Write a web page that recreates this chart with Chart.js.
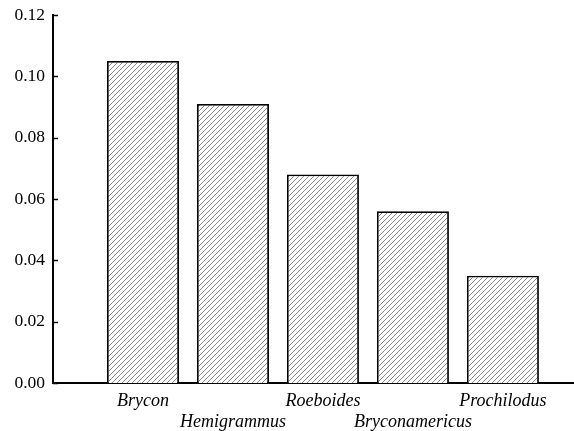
<!DOCTYPE html>
<html>
<head>
<meta charset="UTF-8">
<title>Genera</title>
<style>
  html, body { margin: 0; padding: 0; background: #fff; }
</style>
</head>
<body>
<canvas id="chart" width="574" height="431"></canvas>
<script src="https://cdn.jsdelivr.net/npm/chart.js"></script>
<script>
const genera = ['Brycon', 'Hemigrammus', 'Roeboides', 'Bryconamericus', 'Prochilodus'];
const values = [0.105, 0.091, 0.068, 0.056, 0.035];
const yTicks = [0, 0.02, 0.04, 0.06, 0.08, 0.10, 0.12];

// diagonal hatch fill
function hatch() {
  const c = document.createElement('canvas');
  c.width = 5; c.height = 5;
  const g = c.getContext('2d');
  g.fillStyle = '#fff';
  g.fillRect(0, 0, 5, 5);
  g.strokeStyle = '#7a7a7a';
  g.lineWidth = 0.9;
  g.beginPath();
  g.moveTo(-1, 6); g.lineTo(6, -1);
  g.moveTo(-1, 1); g.lineTo(1, -1);
  g.moveTo(4, 6); g.lineTo(6, 4);
  g.stroke();
  return g.createPattern(c, 'repeat');
}

// short tick marks pointing into the plot
const innerTicks = {
  id: 'innerTicks',
  afterDraw(chart) {
    const y = chart.scales.y, ctx = chart.ctx;
    ctx.save();
    ctx.strokeStyle = '#000';
    ctx.lineWidth = 1.5;
    y.ticks.forEach(t => {
      const py = Math.round(y.getPixelForValue(t.value)) + 0.5;
      ctx.beginPath();
      ctx.moveTo(chart.chartArea.left, py);
      ctx.lineTo(chart.chartArea.left + 5, py);
      ctx.stroke();
    });
    ctx.restore();
  }
};

new Chart(document.getElementById('chart'), {
  type: 'bar',
  data: {
    datasets: [{
      data: genera.map((g, i) => ({ x: i + 1, y: values[i] })),
      backgroundColor: hatch(),
      borderColor: '#000',
      borderWidth: 1.8,
      borderSkipped: 'bottom',
      barPercentage: 0.8,
      categoryPercentage: 1
    }]
  },
  options: {
    responsive: false,
    animation: false,
    layout: { padding: { top: 15, right: 0, left: 0, bottom: 0 } },
    plugins: { legend: { display: false }, tooltip: { enabled: false } },
    scales: {
      x: {
        type: 'linear',
        offset: false,
        min: 0,
        max: 5.79,
        grid: { display: false, drawTicks: false },
        border: { display: true, color: '#000', width: 2 },
        afterBuildTicks: s => { s.ticks = genera.map((g, i) => ({ value: i + 1 })); },
        afterFit: s => { s.height = 48; },
        ticks: {
          autoSkip: false,
          maxRotation: 0,
          padding: 8,
          color: '#000',
          font: { family: 'Liberation Serif', size: 18, style: 'italic', lineHeight: 1.17 },
          callback: v => {
            const i = Math.round(v) - 1;
            return i % 2 ? ['', genera[i]] : genera[i];
          }
        }
      },
      y: {
        min: 0,
        max: 0.12,
        grid: { display: false, drawTicks: false },
        border: { display: true, color: '#000', width: 2 },
        afterBuildTicks: s => { s.ticks = yTicks.map(v => ({ value: v })); },
        afterFit: s => { s.width = 53; s.paddingTop = 0; s.paddingBottom = 0; },
        ticks: {
          autoSkip: false,
          padding: 8,
          color: '#000',
          font: { family: 'Liberation Serif', size: 17.5 },
          callback: v => v.toFixed(2)
        }
      }
    }
  },
  plugins: [innerTicks]
});
</script>
</body>
</html>
